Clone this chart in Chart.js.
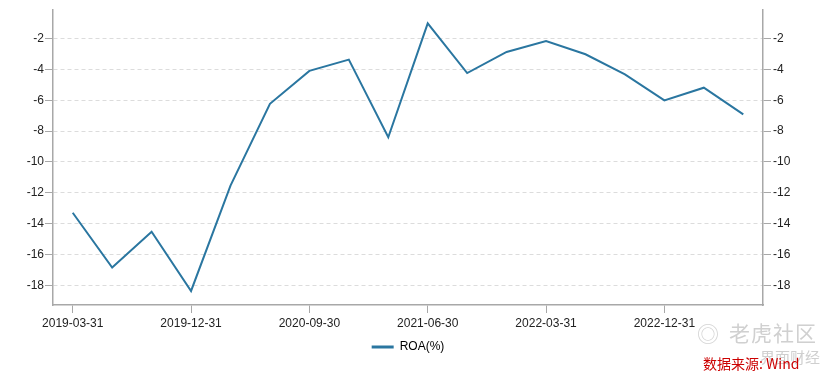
<!DOCTYPE html>
<html>
<head>
<meta charset="utf-8">
<script src="https://cdn.jsdelivr.net/npm/chart.js@4/dist/chart.umd.min.js"></script>
<style>
html,body{margin:0;padding:0;background:#fff;}
#wrap{position:relative;width:830px;height:380px;}
canvas{position:absolute;left:0;top:0;}
.wm{position:absolute;font-family:"Noto Sans CJK SC",sans-serif;white-space:nowrap;}
</style>
</head>
<body>
<div id="wrap">
<canvas id="c" width="830" height="380"></canvas>
<div class="wm" style="left:697px;top:316px;font-size:22px;color:#d4d4d4;">◎</div>
<div class="wm" style="left:729px;top:317px;font-size:21px;color:#d0d0d0;letter-spacing:1px;">老虎社区</div>
<div class="wm" style="left:760px;top:346px;font-size:15px;color:#cfcfcf;">界面财经</div>
<div class="wm" style="left:703px;top:353px;font-size:14px;color:#cc0000;">数据来源: Wind</div>
</div>
<script>
const categories = ["2019-03-31","2019-06-30","2019-09-30","2019-12-31","2020-03-31","2020-06-30","2020-09-30","2020-12-31","2021-03-31","2021-06-30","2021-09-30","2021-12-31","2022-03-31","2022-06-30","2022-09-30","2022-12-31","2023-03-31","2023-06-30"];
const roa = [-13.30,-16.85,-14.53,-18.37,-11.54,-6.23,-4.10,-3.37,-8.40,-1.02,-4.24,-2.87,-2.16,-3.02,-4.32,-6.01,-5.19,-6.92];
const yTicks = [-2,-4,-6,-8,-10,-12,-14,-16,-18];
const seriesName = "ROA(%)";

const lineColor = "#2a76a0";
const axisColor = "#a8a8a8";
const tickFont = {family:"'Liberation Sans', Arial, sans-serif", size:12};

function setTicks(scale){ scale.ticks = yTicks.map(v=>({value:v})); }

const shiftLegend = {
  id:'shiftLegend',
  afterLayout(chart){ if(chart.legend){ chart.legend.left -= 7; chart.legend.right -= 7; } }
};

new Chart(document.getElementById('c'), {
  type:'line',
  data:{labels:categories, datasets:[{label:seriesName, data:roa, borderColor:lineColor, backgroundColor:lineColor, borderWidth:2, pointRadius:0, tension:0, yAxisID:'y'}]},
  options:{
    responsive:false, animation:false,
    layout:{padding:{left:0,right:0,top:10,bottom:17}},
    plugins:{
      tooltip:{enabled:false},
      legend:{position:'bottom', labels:{
        font:tickFont, color:'#222', boxWidth:22, boxHeight:3, padding:8,
        generateLabels:(chart)=>chart.data.datasets.map((d,i)=>({text:d.label, fillStyle:d.borderColor, strokeStyle:d.borderColor, lineWidth:0, datasetIndex:i}))
      }}
    },
    scales:{
      x:{
        type:'category', offset:true,
        grid:{drawOnChartArea:false, drawTicks:true, tickLength:8, tickColor:(ctx)=> (ctx.index%3===0? axisColor : 'rgba(0,0,0,0)'), offset:false},
        border:{color:axisColor, width:1.5},
        ticks:{autoSkip:false, maxRotation:0, font:tickFont, color:'#222', padding:3,
          callback:function(v,i){ return i%3===0 ? categories[i] : ''; }},
        afterFit:(s)=>{ s.height = 28; }
      },
      y:{
        position:'left', min:-19.28, max:-0.15,
        afterBuildTicks:setTicks,
        grid:{color:'#dcdcdc', lineWidth:1, tickColor:axisColor, tickLength:8},
        border:{color:axisColor, width:1.5, dash:[4,3]},
        ticks:{font:tickFont, color:'#222', padding:1},
        afterFit:(s)=>{ s.width = 53; }
      },
      y2:{
        position:'right', min:-19.28, max:-0.15,
        afterBuildTicks:setTicks,
        grid:{drawOnChartArea:false, tickColor:axisColor, tickLength:8},
        border:{color:axisColor, width:1.5},
        ticks:{font:tickFont, color:'#222', padding:2},
        afterFit:(s)=>{ s.width = 67; }
      }
    }
  },
  plugins:[shiftLegend]
});
</script>
</body>
</html>
